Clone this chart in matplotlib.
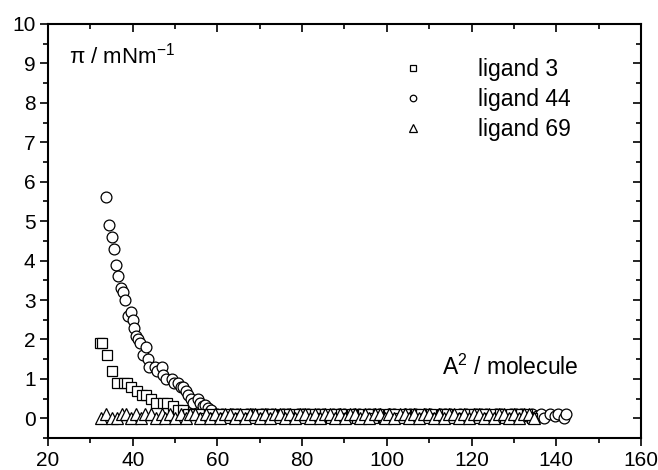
import matplotlib
matplotlib.use("Agg")
import matplotlib.pyplot as plt
from matplotlib.ticker import MultipleLocator

plt.rcParams['font.family'] = ['Liberation Sans', 'DejaVu Sans']

# ligand 3 (squares)
l3_x = [32.3, 32.7, 33.9, 35.2, 36.2, 37.9, 38.7, 39.6, 40.9, 42.1, 43.1, 44.2,
        45.5, 47.1, 48.0, 49.6, 50.8, 51.9, 53.1, 54.3, 55.6, 56.8, 58.0, 59.3,
        60.5, 61.8, 63.0, 64.3, 65.5, 66.8, 68.0, 69.3, 70.5, 71.8, 73.0, 74.3,
        75.5, 76.8, 78.0, 79.3, 80.5, 81.8, 83.0, 84.3, 85.5, 86.8, 88.0, 89.3,
        90.5, 91.8, 93.0, 94.3, 95.5, 96.8, 98.0, 99.3, 100.5, 101.8, 103.0,
        104.3, 105.5, 106.8, 108.0, 109.3, 110.5, 111.8, 113.0, 114.3, 115.5,
        116.8, 118.0, 119.3, 120.5, 121.8, 123.0, 124.3, 125.5, 126.8, 128.0,
        129.3, 130.5, 131.8, 133.0, 134.3]
l3_y = [1.9, 1.9, 1.6, 1.2, 0.9, 0.9, 0.9, 0.8, 0.7, 0.6, 0.6, 0.5,
        0.4, 0.4, 0.4, 0.3, 0.2, 0.2, 0.1, 0.1, 0.1, 0.0, 0.1, 0.0,
        0.1, 0.0, 0.1, 0.1, 0.0, 0.1, 0.0, 0.1, 0.1, 0.0, 0.1, 0.0,
        0.1, 0.1, 0.0, 0.1, 0.0, 0.1, 0.1, 0.0, 0.1, 0.0, 0.1, 0.1,
        0.0, 0.1, 0.0, 0.1, 0.1, 0.0, 0.1, 0.0, 0.1, 0.1, 0.0,
        0.1, 0.0, 0.1, 0.1, 0.0, 0.1, 0.0, 0.1, 0.1, 0.0,
        0.1, 0.0, 0.1, 0.1, 0.0, 0.1, 0.0, 0.1, 0.1, 0.0,
        0.1, 0.0, 0.1, 0.1, 0.0]

# ligand 44 (circles)
l44_x = [33.7, 34.5, 35.0, 35.6, 36.0, 36.6, 37.2, 37.7, 38.2, 39.0, 39.6, 40.0,
         40.3, 40.8, 41.2, 41.7, 42.4, 43.1, 43.7, 43.9, 45.3, 45.8, 46.8, 47.2,
         47.8, 49.2, 49.7, 50.8, 51.3, 51.9, 52.5, 53.1, 53.7, 54.3, 55.3, 55.9,
         56.5, 57.1, 57.8, 58.6, 59.8, 61.0, 62.2, 63.4, 64.6, 65.8, 67.0, 68.2,
         69.4, 70.6, 71.8, 73.0, 74.2, 75.4, 76.6, 77.8, 79.0, 80.2, 81.4, 82.6,
         83.8, 85.0, 86.2, 87.4, 88.6, 89.8, 91.0, 92.2, 93.4, 94.6, 95.8, 97.0,
         98.2, 99.4, 100.6, 101.8, 103.0, 104.2, 105.4, 106.6, 107.8, 109.0,
         110.2, 111.4, 112.6, 113.8, 115.0, 116.2, 117.4, 118.6, 119.8, 121.0,
         122.2, 123.4, 124.6, 125.8, 127.0, 128.2, 129.4, 130.6, 131.8, 133.0,
         134.2, 135.4, 136.3, 137.2, 138.5, 139.6, 140.4, 141.8, 142.3]
l44_y = [5.6, 4.9, 4.6, 4.3, 3.9, 3.6, 3.3, 3.2, 3.0, 2.6, 2.7, 2.5,
         2.3, 2.1, 2.0, 1.9, 1.6, 1.8, 1.5, 1.3, 1.3, 1.2, 1.3, 1.1,
         1.0, 1.0, 0.9, 0.9, 0.8, 0.8, 0.7, 0.6, 0.5, 0.4, 0.5, 0.4,
         0.3, 0.35, 0.25, 0.2, 0.1, 0.1, 0.05, 0.1, 0.1, 0.05, 0.1, 0.1,
         0.05, 0.1, 0.1, 0.1, 0.05, 0.1, 0.1, 0.05, 0.1, 0.1, 0.1, 0.05,
         0.1, 0.1, 0.05, 0.1, 0.1, 0.1, 0.05, 0.1, 0.1, 0.05, 0.1, 0.1,
         0.1, 0.05, 0.1, 0.1, 0.05, 0.1, 0.1, 0.1, 0.05, 0.1,
         0.1, 0.05, 0.1, 0.1, 0.1, 0.05, 0.1, 0.1, 0.05, 0.1,
         0.1, 0.1, 0.05, 0.1, 0.1, 0.05, 0.1, 0.1, 0.1, 0.05,
         0.1, 0.05, 0.1, 0.0, 0.1, 0.05, 0.1, 0.0, 0.1]

# ligand 69 (triangles)
l69_x = [32.6, 33.8, 35.0, 36.3, 37.5, 38.4, 39.5, 40.8, 42.0, 43.0, 44.2, 45.6,
         46.8, 47.7, 48.9, 50.1, 51.3, 52.5, 53.6, 54.8, 56.0, 57.2, 58.3, 59.5,
         60.7, 61.9, 63.0, 64.2, 65.4, 66.6, 67.7, 68.9, 70.1, 71.3, 72.4, 73.6,
         74.8, 76.0, 77.1, 78.3, 79.5, 80.7, 81.8, 83.0, 84.2, 85.4, 86.5, 87.7,
         88.9, 90.1, 91.2, 92.4, 93.6, 94.8, 95.9, 97.1, 98.3, 99.5, 100.6,
         101.8, 103.0, 104.2, 105.3, 106.5, 107.7, 108.9, 110.0, 111.2, 112.4,
         113.6, 114.7, 115.9, 117.1, 118.3, 119.4, 120.6, 121.8, 123.0, 124.1,
         125.3, 126.5, 127.7, 128.8, 130.0, 131.2, 132.4, 133.5, 134.7]
l69_y = [0.0, 0.1, 0.0, 0.0, 0.1, 0.1, 0.0, 0.1, 0.0, 0.1, 0.1, 0.0,
         0.1, 0.0, 0.1, 0.0, 0.1, 0.0, 0.1, 0.1, 0.0, 0.1, 0.0, 0.1,
         0.0, 0.1, 0.1, 0.0, 0.1, 0.0, 0.1, 0.1, 0.0, 0.1, 0.0, 0.1,
         0.1, 0.0, 0.1, 0.0, 0.1, 0.1, 0.0, 0.1, 0.0, 0.1, 0.1, 0.0,
         0.1, 0.0, 0.1, 0.1, 0.0, 0.1, 0.0, 0.1, 0.1, 0.0, 0.1,
         0.0, 0.1, 0.1, 0.0, 0.1, 0.0, 0.1, 0.1, 0.0, 0.1,
         0.0, 0.1, 0.1, 0.0, 0.1, 0.0, 0.1, 0.1, 0.0, 0.1,
         0.0, 0.1, 0.1, 0.0, 0.1, 0.0, 0.1, 0.1, 0.0]

labels = ["ligand 3", "ligand 44", "ligand 69"]

fig = plt.figure(figsize=(6.58, 4.70), dpi=100)
ax = fig.add_axes([0.073, 0.068, 0.901, 0.881])

ax.plot(l3_x, l3_y, 's', ms=6.5, mfc='white', mec='black', mew=0.9, label=labels[0], zorder=3)
ax.plot(l44_x, l44_y, 'o', ms=7.8, mfc='white', mec='black', mew=0.9, label=labels[1], zorder=2)
ax.plot(l69_x, l69_y, '^', ms=8.5, mfc='white', mec='black', mew=0.9, label=labels[2], zorder=4)

ax.set_xlim(20, 160)
ax.set_ylim(-0.5, 10)
ax.xaxis.set_major_locator(MultipleLocator(20))
ax.xaxis.set_minor_locator(MultipleLocator(10))
ax.yaxis.set_major_locator(MultipleLocator(1))
ax.yaxis.set_minor_locator(MultipleLocator(0.5))

for s in ax.spines.values():
    s.set_linewidth(1.5)

ax.tick_params(which='both', direction='out', width=1.2, labelsize=15, pad=3)
ax.tick_params(which='major', length=6)
ax.tick_params(which='minor', length=3.5)
ax.tick_params(which='both', top=True, right=True)
# top/right ticks point inward
for t in ax.xaxis.get_major_ticks() + ax.xaxis.get_minor_ticks():
    t.tick2line.set_marker(3)  # TICKDOWN
for t in ax.yaxis.get_major_ticks() + ax.yaxis.get_minor_ticks():
    t.tick2line.set_marker(0)  # TICKLEFT

ax.text(0.035, 0.955, "\u03c0 / mNm$^{\\mathregular{-1}}$", transform=ax.transAxes,
        fontsize=16, ha='left', va='top')
ax.text(0.665, 0.14, "A$^{\\mathregular{2}}$ / molecule", transform=ax.transAxes,
        fontsize=16.5, ha='left', va='bottom')

leg = ax.legend(loc='upper left', bbox_to_anchor=(0.58, 0.94), frameon=False,
                fontsize=16.5, markerscale=0.6, handlelength=1.0,
                handletextpad=2.35, labelspacing=0.3, borderaxespad=0)

fig.savefig("out.png", dpi=100)
